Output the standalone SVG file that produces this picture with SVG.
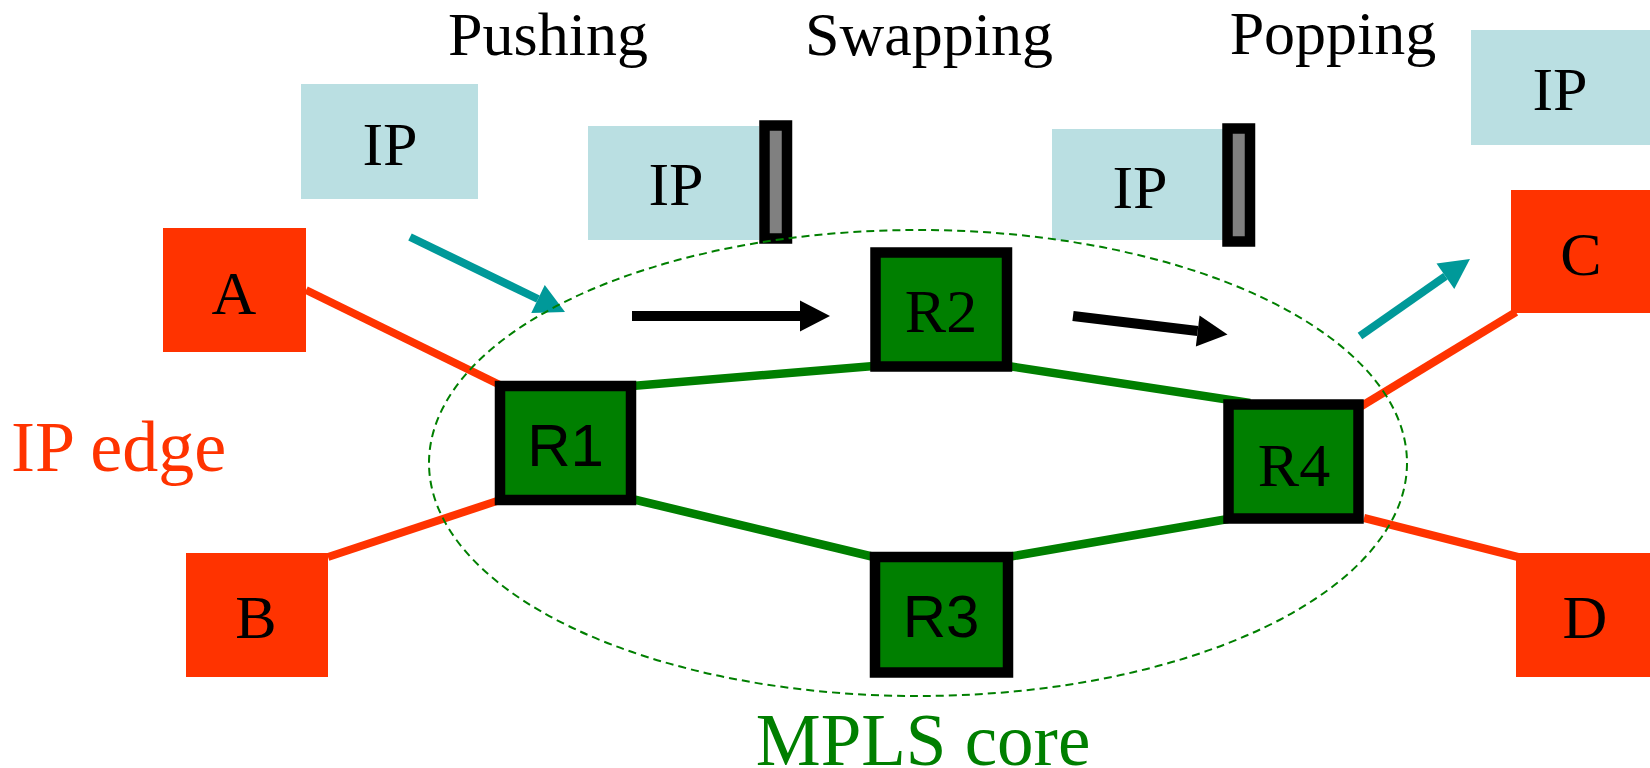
<svg xmlns="http://www.w3.org/2000/svg" width="1650" height="768" viewBox="0 0 1650 768">
<style>
.t{font-family:"Liberation Serif","Times New Roman",serif;font-size:62px;fill:#000;text-anchor:middle}
.s{font-family:"Liberation Sans",Arial,sans-serif;font-size:60px;fill:#000;text-anchor:middle}
.ip{fill:#BADFE2}
.lbl{fill:#808080;stroke:#000;stroke-width:10.5}
.edge{fill:#FF3300}
.rt{fill:#007F00;stroke:#000;stroke-width:10.5}
.red{stroke:#FF3300;stroke-width:8;fill:none}
.grn{stroke:#007F00;stroke-width:8.5;fill:none}
.ta{stroke:#009999;stroke-width:8;fill:none}
.ba{stroke:#000;stroke-width:10;fill:none}
</style>
<defs>
<marker id="mt" markerUnits="userSpaceOnUse" markerWidth="31" markerHeight="31" refX="0" refY="15.5" orient="auto" overflow="visible"><path d="M0,0 L30,15.5 L0,31 z" fill="#009999"/></marker>
<marker id="mb" markerUnits="userSpaceOnUse" markerWidth="31" markerHeight="31" refX="0" refY="15.5" orient="auto" overflow="visible"><path d="M0,0 L30,15.5 L0,31 z" fill="#000"/></marker>
</defs>
<rect width="1650" height="768" fill="#fff"/>
<g id="titles">
<text class="t" x="548" y="55">Pushing</text>
<text class="t" x="929" y="55">Swapping</text>
<text class="t" x="1333" y="54">Popping</text>
</g>
<g id="packet1"><rect class="ip" x="301" y="84" width="177" height="115"/><text class="t" x="390" y="165">IP</text></g>
<g id="packet2"><rect class="ip" x="588" y="126" width="171" height="114"/><rect class="lbl" x="764.5" y="125.5" width="22.5" height="113"/><text class="t" x="676" y="205">IP</text></g>
<g id="packet3"><rect class="ip" x="1052" y="129" width="171" height="111"/><rect class="lbl" x="1227.5" y="128.5" width="22.5" height="113"/><text class="t" x="1140" y="208">IP</text></g>
<g id="packet4"><rect class="ip" x="1471" y="30" width="179" height="115"/><text class="t" x="1560" y="110">IP</text></g>
<g id="connectors">
<line class="red" x1="306" y1="290" x2="500" y2="385"/>
<line class="red" x1="500" y1="500" x2="328" y2="557"/>
<line class="red" x1="1360" y1="407" x2="1516" y2="312"/>
<line class="red" x1="1364" y1="518" x2="1518" y2="557"/>
<line class="grn" x1="632" y1="386" x2="874" y2="366"/>
<line class="grn" x1="1008" y1="366" x2="1250" y2="403"/>
<line class="grn" x1="632" y1="499" x2="874" y2="557"/>
<line class="grn" x1="1008" y1="557" x2="1228" y2="519"/>
<line class="ta" x1="410" y1="237" x2="538" y2="299" marker-end="url(#mt)"/>
<line class="ta" x1="1360" y1="336" x2="1445.4" y2="276.2" marker-end="url(#mt)"/>
<line class="ba" x1="632" y1="316" x2="800" y2="316" marker-end="url(#mb)"/>
<line class="ba" x1="1073" y1="316" x2="1197.7" y2="331" marker-end="url(#mb)"/>
</g>
<g id="mpls-core"><ellipse cx="918" cy="463" rx="489" ry="233" fill="none" stroke="#007F00" stroke-width="2" stroke-dasharray="8 5"/></g>
<g id="A"><rect class="edge" x="163" y="228" width="143" height="124"/><text class="t" x="234" y="314">A</text></g>
<g id="B"><rect class="edge" x="186" y="553" width="142" height="124"/><text class="t" x="256" y="638">B</text></g>
<g id="C"><rect class="edge" x="1511" y="190" width="143" height="123"/><text class="t" x="1581" y="275">C</text></g>
<g id="D"><rect class="edge" x="1516" y="553" width="143" height="124"/><text class="t" x="1585" y="638">D</text></g>
<g id="R1"><rect class="rt" x="500" y="386" width="131" height="114"/><text class="s" x="565.5" y="466">R1</text></g>
<g id="R2"><rect class="rt" x="875.5" y="252.5" width="131.5" height="114"/><text class="t" x="941" y="332">R2</text></g>
<g id="R3"><rect class="rt" x="875" y="557" width="133" height="115.5"/><text class="s" x="941" y="637">R3</text></g>
<g id="R4"><rect class="rt" x="1228.5" y="404.5" width="130" height="114"/><text class="t" x="1294" y="486">R4</text></g>
<g id="labels">
<text x="11" y="471" style="font-family:'Liberation Serif','Times New Roman',serif;font-size:72px;fill:#FF3300">IP edge</text>
<text x="923" y="765" style="font-family:'Liberation Serif','Times New Roman',serif;font-size:73px;fill:#007F00;text-anchor:middle">MPLS core</text>
</g>
</svg>
